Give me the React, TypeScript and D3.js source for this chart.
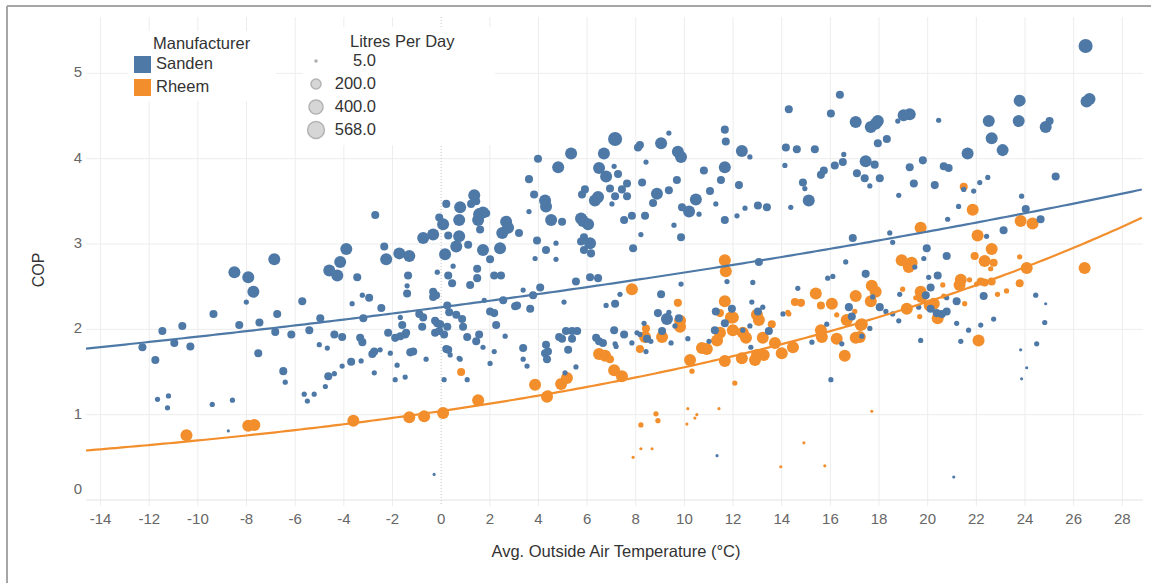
import { useEffect, useRef } from "react";
import * as d3 from "d3";

const W = 1151;
const H = 583;
const FONT = "'Liberation Sans', Arial, sans-serif";

const manufacturers = ["Sanden", "Rheem"];
const colors = ["#4e79a7", "#f28e2b"];
const xTicks = d3.range(-14, 29, 2);
const yTicks = [0, 1, 2, 3, 4, 5];
const sizeLegend = [5, 200, 400, 568];

// exponential trend: cop = a * exp(b * temp)
const trendSanden = [2.259, 0.01655];
const trendRheem = [1.042, 0.0401];

// [avg outside air temp, COP, litres per day]
const sanden: [number, number, number][] = [
  [-12.28, 1.79, 130], [-11.75, 1.64, 130], [-11.46, 1.98, 130], [-10.64, 2.04, 130], [-10.97, 1.84, 130],
  [-10.31, 1.8, 130], [-11.66, 1.18, 55], [-11.21, 1.22, 55], [-11.25, 1.08, 55], [-9.41, 1.12, 55],
  [-8.58, 1.17, 55], [-8.75, 0.81, 20], [-9.36, 2.18, 130], [-8.3, 2.05, 130], [-7.47, 2.08, 130],
  [-8.01, 2.32, 55], [-8.5, 2.67, 290], [-7.93, 2.61, 290], [-7.72, 2.44, 290], [-6.86, 2.82, 290],
  [-6.74, 2.18, 130], [-5.71, 2.33, 130], [-4.97, 2.13, 130], [-7.52, 1.72, 130], [-6.82, 1.97, 130],
  [-6.16, 1.94, 130], [-5.42, 1.99, 130], [-6.49, 1.51, 130], [-6.41, 1.38, 55], [-5.63, 1.24, 55],
  [-5.22, 1.24, 55], [-5.5, 1.16, 55], [-4.76, 1.33, 55], [-4.64, 1.45, 130], [-4.39, 1.48, 55],
  [-4.07, 1.57, 55], [-3.7, 1.62, 130], [-3.29, 1.63, 55], [-2.75, 1.49, 55], [-5.01, 1.82, 55],
  [-4.68, 1.78, 55], [-4.39, 1.94, 130], [-4.07, 1.91, 130], [-3.33, 1.9, 130], [-3.24, 1.85, 130],
  [-3.2, 2.13, 130], [-2.83, 1.71, 130], [-2.75, 1.74, 130], [-2.51, 1.76, 55], [-2.18, 1.96, 130],
  [-2.09, 1.72, 55], [-1.81, 1.58, 55], [-1.89, 1.41, 55], [-1.48, 1.44, 55], [-1.89, 1.9, 130],
  [-1.68, 1.92, 130], [-1.44, 1.96, 130], [-1.68, 2.14, 55], [-1.6, 2.05, 130], [-0.9, 2.18, 130],
  [-0.74, 2.14, 130], [-0.78, 2.03, 130], [-0.62, 1.65, 55], [-1.27, 1.73, 130], [-1.15, 1.74, 130],
  [-3.66, 2.3, 55], [-3.24, 2.4, 55], [-2.96, 2.37, 130], [-2.46, 2.25, 130], [-2.71, 3.34, 130],
  [-2.34, 2.97, 130], [-2.26, 2.82, 290], [-3.9, 2.94, 290], [-4.15, 2.79, 290], [-4.6, 2.69, 290],
  [-4.27, 2.63, 290], [-3.45, 2.61, 130], [-1.72, 2.89, 290], [-1.31, 2.86, 290], [-1.36, 2.63, 130],
  [-1.4, 2.51, 55], [-1.4, 2.42, 130], [-0.33, 2.44, 130], [-0.33, 2.38, 130], [-0.21, 2.4, 130],
  [-0.16, 2.67, 55], [-0.25, 2.1, 130], [-0.16, 2.07, 130], [-0.04, 2.06, 130], [-0.25, 1.96, 130],
  [-0.08, 1.98, 130], [0.12, 1.94, 130], [0.25, 2.03, 130], [0.25, 2.28, 130], [0.33, 2.2, 130],
  [0.21, 1.77, 130], [0.29, 1.76, 130], [0.37, 1.7, 55], [0.12, 1.41, 55], [0.74, 1.66, 55],
  [-0.29, 0.3, 20], [0.29, 2.63, 130], [0.45, 2.54, 130], [0.49, 2.74, 55], [0.16, 2.88, 290],
  [-0.74, 3.07, 290], [-0.33, 3.11, 290], [-0.08, 3.31, 130], [0.08, 3.23, 290], [0.21, 3.47, 130],
  [0.78, 3.43, 290], [0.74, 3.28, 290], [0.29, 3.1, 130], [0.74, 3.09, 290], [0.62, 2.97, 290],
  [1.36, 3.57, 290], [1.44, 3.5, 130], [1.23, 3.47, 130], [1.56, 3.35, 290], [1.72, 3.37, 290],
  [1.85, 3.36, 130], [1.52, 3.28, 290], [1.6, 3.17, 130], [1.11, 2.99, 130], [1.19, 2.52, 130],
  [1.48, 2.6, 130], [1.48, 2.71, 130], [1.72, 2.93, 290], [2.01, 2.82, 130], [2.18, 2.63, 130],
  [2.46, 2.63, 130], [2.67, 3.26, 290], [2.75, 3.19, 290], [2.51, 3.13, 290], [2.42, 2.95, 290],
  [3.2, 3.13, 130], [3.61, 3.76, 130], [3.98, 4.0, 130], [4.81, 3.9, 290], [5.34, 4.06, 290],
  [3.82, 3.58, 130], [4.27, 3.51, 290], [4.31, 3.44, 290], [3.61, 3.38, 55], [4.52, 3.28, 290],
  [4.97, 3.26, 130], [3.94, 3.04, 130], [4.31, 2.93, 130], [4.72, 3.01, 55], [3.86, 2.83, 55],
  [4.72, 2.82, 55], [4.07, 2.49, 130], [3.37, 2.46, 55], [3.74, 2.41, 55], [5.54, 2.56, 130],
  [6.12, 2.61, 130], [6.45, 2.6, 130], [5.05, 2.32, 55], [6.78, 2.28, 55], [7.15, 2.3, 130],
  [7.35, 2.41, 55], [5.79, 3.58, 130], [5.91, 3.64, 130], [6.45, 3.55, 290], [6.32, 3.51, 290],
  [7.02, 3.47, 55], [7.15, 3.56, 130], [6.94, 3.65, 130], [5.75, 3.3, 290], [5.83, 3.27, 290],
  [6.04, 3.23, 290], [5.75, 3.03, 130], [5.87, 3.08, 130], [5.87, 2.93, 130], [6.12, 3.01, 290],
  [6.16, 2.89, 130], [6.69, 4.06, 290], [7.15, 4.23, 400], [6.49, 3.89, 290], [6.78, 3.79, 290],
  [7.11, 3.91, 55], [7.27, 3.82, 130], [7.64, 3.71, 130], [7.43, 3.64, 130], [7.64, 3.56, 130],
  [7.52, 3.28, 130], [8.09, 4.13, 130], [8.17, 4.16, 130], [9.36, 4.3, 55], [9.04, 4.18, 290],
  [9.73, 4.08, 290], [9.86, 4.02, 290], [8.42, 3.96, 55], [11.66, 4.34, 130], [11.7, 4.2, 130],
  [12.36, 4.09, 290], [12.69, 4.02, 55], [11.66, 3.9, 290], [10.8, 3.86, 130], [11.5, 3.75, 130],
  [9.69, 3.75, 130], [8.26, 3.72, 130], [8.87, 3.59, 290], [9.36, 3.63, 130], [11.05, 3.62, 130],
  [12.24, 3.69, 130], [10.47, 3.52, 290], [8.71, 3.48, 130], [9.9, 3.43, 130], [10.19, 3.38, 290],
  [10.6, 3.35, 55], [11.29, 3.47, 55], [12.49, 3.42, 55], [13.02, 3.45, 130], [13.39, 3.43, 130],
  [11.66, 3.28, 130], [12.16, 3.33, 55], [8.38, 3.33, 130], [7.84, 3.33, 130], [9.57, 3.22, 55],
  [8.21, 3.11, 55], [9.86, 3.08, 130], [7.89, 2.95, 130], [13.06, 2.79, 130], [12.81, 2.55, 55],
  [11.75, 2.56, 55], [9.86, 2.53, 55], [9.04, 2.41, 130], [8.91, 2.19, 130], [9.36, 2.2, 55],
  [9.28, 2.12, 290], [9.77, 2.13, 130], [9.61, 2.04, 55], [8.34, 2.07, 55], [7.11, 1.99, 130],
  [7.52, 1.94, 130], [8.17, 1.94, 55], [7.84, 1.84, 55], [9.08, 1.98, 130], [9.45, 1.84, 55],
  [10.14, 1.89, 55], [11.29, 2.21, 130], [11.95, 2.24, 130], [12.77, 2.32, 55], [13.02, 2.21, 130],
  [13.22, 2.26, 55], [11.25, 1.99, 130], [11.66, 2.07, 130], [12.4, 1.99, 55], [12.69, 2.04, 55],
  [13.47, 1.98, 130], [11.01, 1.86, 55], [12.73, 1.79, 55], [8.42, 1.74, 55], [8.05, 1.96, 55],
  [8.46, 1.89, 130], [8.62, 1.86, 55], [7.15, 1.83, 55], [7.19, 1.8, 55], [6.37, 1.9, 130],
  [6.49, 1.86, 130], [6.65, 1.84, 130], [11.34, 0.52, 20], [1.07, 1.41, 55], [0.78, 1.65, 55],
  [2.01, 1.6, 55], [3.37, 1.65, 55], [3.53, 1.57, 55], [4.35, 1.65, 130], [4.27, 1.72, 130],
  [4.39, 1.74, 130], [4.31, 1.82, 130], [3.37, 1.78, 130], [5.09, 1.49, 55], [5.54, 1.56, 55],
  [1.72, 1.79, 55], [2.18, 1.74, 55], [5.22, 1.76, 130], [4.85, 1.91, 130], [4.97, 1.89, 130],
  [5.38, 1.89, 130], [5.13, 1.98, 130], [5.38, 1.98, 130], [5.59, 1.98, 130], [2.63, 1.92, 55],
  [1.44, 1.86, 130], [1.56, 1.94, 130], [1.07, 1.91, 130], [3.66, 2.24, 130], [3.78, 2.4, 130],
  [3.04, 2.27, 130], [3.12, 2.28, 130], [2.55, 2.34, 130], [2.01, 2.21, 130], [2.18, 2.19, 130],
  [2.26, 2.05, 130], [1.77, 2.34, 55], [0.86, 2.12, 130], [0.9, 2.03, 130], [0.62, 2.17, 130],
  [-1.48, 1.94, 130], [-1.64, 1.93, 55],
  [14.29, 4.58, 130], [16.02, 4.53, 130], [16.39, 4.75, 130], [17.04, 4.43, 290], [17.66, 4.37, 290],
  [17.95, 4.44, 290], [17.86, 4.41, 290], [18.32, 4.23, 130], [17.95, 4.18, 130], [14.17, 4.13, 130],
  [14.62, 4.11, 130], [15.36, 4.11, 130], [16.55, 4.05, 55], [16.51, 3.96, 130], [16.18, 3.92, 130],
  [14.13, 3.92, 55], [17.45, 3.97, 290], [17.82, 3.93, 130], [15.73, 3.86, 130], [15.61, 3.81, 130],
  [17.09, 3.83, 130], [17.41, 3.77, 130], [18.03, 3.77, 130], [17.62, 3.68, 55], [19.26, 4.52, 290],
  [19.01, 4.51, 290], [18.77, 4.44, 55], [20.45, 4.45, 55], [21.64, 4.06, 290], [22.51, 4.44, 290],
  [22.63, 4.24, 290], [23.08, 4.1, 290], [23.78, 4.68, 290], [23.74, 4.44, 290], [24.85, 4.37, 290],
  [25.01, 4.44, 130], [26.49, 5.32, 400], [26.53, 4.67, 290], [26.65, 4.7, 290], [25.26, 3.79, 130],
  [19.26, 3.9, 130], [19.8, 3.98, 130], [14.87, 3.72, 130], [14.95, 3.65, 55], [15.11, 3.51, 290],
  [19.43, 3.71, 130], [20.29, 3.69, 130], [18.81, 3.57, 55], [20.66, 3.91, 130], [20.86, 3.89, 130],
  [21.48, 3.64, 55], [21.89, 3.62, 55], [22.14, 3.72, 55], [22.47, 3.78, 55], [14.37, 3.43, 55],
  [23.86, 3.56, 55], [24.03, 3.41, 130], [21.27, 3.44, 55], [20.82, 3.29, 55], [24.64, 3.29, 130],
  [23.12, 3.16, 130], [18.44, 3.13, 55], [18.56, 3.02, 55], [16.92, 3.07, 130], [19.96, 2.95, 130],
  [19.84, 2.83, 55], [20.78, 2.86, 130], [22.42, 3.09, 55], [16.63, 2.79, 55], [19.47, 2.73, 55],
  [17.45, 2.65, 130], [20.04, 2.61, 55], [20.41, 2.63, 130], [20.12, 2.49, 130], [17.74, 2.38, 55],
  [18.85, 2.41, 55], [19.92, 2.4, 130], [20.78, 2.37, 55], [22.3, 2.39, 130], [18.03, 2.26, 130],
  [18.28, 2.21, 55], [18.56, 2.18, 55], [18.81, 2.1, 55], [19.63, 2.26, 55], [20.12, 2.24, 130],
  [20.37, 2.19, 130], [20.58, 2.18, 130], [20.78, 2.21, 130], [21.19, 2.33, 130], [21.19, 2.07, 55],
  [21.68, 1.99, 55], [22.18, 2.05, 55], [22.71, 2.12, 55], [17.29, 1.92, 55], [17.62, 2.01, 55],
  [19.71, 1.87, 55], [21.36, 1.86, 55], [24.44, 2.4, 55], [24.85, 2.3, 20], [24.81, 2.08, 55],
  [24.48, 1.83, 55], [23.82, 1.76, 20], [24.07, 1.55, 20], [23.86, 1.42, 20], [21.07, 0.27, 20],
  [16.02, 1.41, 55], [14.66, 2.48, 55], [15.89, 2.6, 55], [16.1, 2.62, 55], [16.88, 2.15, 130],
  [16.76, 2.26, 130], [16.47, 1.83, 55], [15.24, 1.85, 55], [15.85, 2.06, 55], [14.05, 2.18, 55],
];

const rheem: [number, number, number][] = [
  [-10.47, 0.76, 290], [-7.93, 0.87, 290], [-7.68, 0.88, 290], [-3.61, 0.93, 290], [-1.31, 0.97, 290],
  [-0.7, 0.98, 290], [0.08, 1.02, 290], [1.52, 1.17, 290], [0.82, 1.5, 130], [3.86, 1.35, 290],
  [4.35, 1.21, 290], [4.39, 1.24, 130], [4.93, 1.36, 290], [5.17, 1.43, 290], [6.49, 1.71, 290],
  [6.74, 1.69, 290], [6.94, 1.65, 130], [7.11, 1.52, 290], [7.43, 1.45, 290], [7.84, 2.47, 290],
  [8.17, 1.77, 130], [8.42, 2.01, 130], [8.38, 1.91, 290], [9.08, 1.91, 290], [9.73, 2.31, 130],
  [9.82, 2.03, 290], [9.82, 2.1, 290], [10.23, 1.64, 290], [10.31, 1.51, 55], [10.72, 1.78, 290],
  [10.92, 1.77, 290], [11.46, 2.19, 130], [11.66, 2.33, 290], [11.91, 2.14, 290], [11.99, 2.14, 290],
  [11.46, 1.96, 290], [11.34, 1.87, 290], [11.99, 1.99, 290], [11.66, 2.81, 290], [11.7, 2.68, 290],
  [11.66, 1.63, 290], [12.36, 1.66, 290], [12.4, 1.96, 290], [12.53, 1.9, 290], [12.07, 1.37, 55],
  [12.98, 2.17, 290], [13.06, 2.11, 290], [13.22, 1.9, 290], [12.98, 1.7, 290], [13.26, 1.7, 290],
  [12.9, 1.64, 290], [13.59, 2.06, 130], [13.72, 1.84, 290], [14.0, 1.72, 290], [14.46, 1.79, 290],
  [14.25, 2.2, 55], [14.29, 2.18, 55], [14.54, 2.32, 130], [14.79, 2.31, 130], [15.4, 2.42, 290],
  [15.61, 2.28, 130], [16.06, 2.3, 290], [16.26, 2.17, 55], [16.67, 2.11, 290], [17.0, 2.21, 55],
  [17.04, 2.39, 290], [15.61, 1.99, 290], [15.65, 1.91, 290], [16.26, 1.89, 290], [17.25, 2.05, 290],
  [17.04, 1.9, 290], [16.59, 1.69, 290], [17.7, 2.51, 290], [17.86, 2.44, 290], [17.66, 2.33, 290],
  [18.97, 2.47, 55], [18.93, 2.81, 290], [19.34, 2.78, 290], [19.22, 2.73, 290], [19.71, 3.19, 290],
  [19.71, 2.44, 290], [19.75, 2.38, 290], [19.51, 2.37, 55], [20.25, 2.3, 290], [20.08, 2.28, 290],
  [19.14, 2.24, 290], [19.67, 2.15, 55], [20.41, 2.13, 290], [20.62, 2.52, 55], [20.66, 2.39, 55],
  [21.36, 2.58, 290], [21.31, 2.52, 290], [21.72, 2.58, 55], [22.18, 2.56, 130], [22.34, 2.55, 130],
  [22.63, 2.56, 130], [22.01, 2.53, 55], [22.87, 2.41, 55], [23.24, 2.45, 55], [23.78, 2.54, 130],
  [21.52, 2.3, 55], [22.09, 1.87, 290], [21.48, 3.67, 130], [21.85, 3.4, 290], [22.05, 3.1, 290],
  [22.63, 2.94, 290], [23.82, 3.27, 290], [24.31, 3.24, 290], [21.93, 2.86, 130], [22.34, 2.8, 290],
  [22.71, 2.78, 130], [22.59, 2.71, 55], [23.78, 2.85, 55], [24.07, 2.72, 290], [26.45, 2.72, 290],
  [17.29, 2.06, 290], [17.21, 1.91, 290], [8.83, 1.01, 55], [8.91, 0.93, 55], [8.21, 0.88, 55],
  [8.21, 0.6, 20], [8.67, 0.6, 20], [7.89, 0.5, 20], [10.14, 1.07, 20], [10.43, 0.96, 20],
  [10.51, 1.0, 20], [10.1, 0.89, 20], [11.42, 1.07, 20], [17.7, 1.04, 20], [14.91, 0.67, 20],
  [13.96, 0.39, 20], [15.77, 0.4, 20],
];

export default function App() {
  const svgRef = useRef<SVGSVGElement>(null);

  useEffect(() => {
    const svg = d3.select(svgRef.current);
    svg.selectAll("*").remove();

    const x = d3.scaleLinear().domain([-14.6, 28.85]).range([86, 1143]);
    const y = d3.scaleLinear().domain([0, 5.66]).range([500, 17]);
    const r = d3.scaleSqrt().domain([0, 568]).range([0, 8.4]);
    const radius = (v: number) => Math.max(1.2, r(v));

    svg.append("rect").attr("width", W).attr("height", H).attr("fill", "#fff");

    // outer frame
    svg.append("line").attr("x1", 7).attr("x2", W).attr("y1", 6).attr("y2", 6)
      .attr("stroke", "#a6a6a6").attr("stroke-width", 2);
    svg.append("line").attr("x1", 7).attr("x2", 7).attr("y1", 6).attr("y2", H)
      .attr("stroke", "#a6a6a6").attr("stroke-width", 2);

    const grid = svg.append("g");
    grid.selectAll(".vg").data(xTicks.filter(d => d !== 0)).enter().append("line")
      .attr("x1", d => x(d)).attr("x2", d => x(d))
      .attr("y1", 17).attr("y2", 506)
      .attr("stroke", "#ededed").attr("stroke-width", 1);
    grid.selectAll(".hg").data(yTicks.filter(d => d > 0)).enter().append("line")
      .attr("x1", 86).attr("x2", 1143)
      .attr("y1", d => y(d)).attr("y2", d => y(d))
      .attr("stroke", "#ededed").attr("stroke-width", 1);
    // x axis base line
    grid.append("line").attr("x1", 86).attr("x2", 1143).attr("y1", 500).attr("y2", 500)
      .attr("stroke", "#e3e3e3").attr("stroke-width", 1);
    // zero line
    grid.append("line").attr("x1", x(0)).attr("x2", x(0)).attr("y1", 17).attr("y2", 506)
      .attr("stroke", "#c4c4c4").attr("stroke-width", 1).attr("stroke-dasharray", "1,2");

    // axis labels
    svg.append("g").selectAll("text").data(xTicks).enter().append("text")
      .attr("x", d => x(d)).attr("y", 520)
      .attr("text-anchor", "middle").attr("dominant-baseline", "middle")
      .attr("font-family", FONT).attr("font-size", 15).attr("fill", "#666")
      .text(d => d);
    svg.append("g").selectAll("text").data(yTicks).enter().append("text")
      .attr("x", 82).attr("y", d => d === 0 ? 490 : y(d))
      .attr("text-anchor", "end").attr("dominant-baseline", "middle")
      .attr("font-family", FONT).attr("font-size", 15).attr("fill", "#666")
      .text(d => d);

    svg.append("text")
      .attr("x", 616).attr("y", 553)
      .attr("text-anchor", "middle").attr("dominant-baseline", "middle")
      .attr("font-family", FONT).attr("font-size", 16.5).attr("fill", "#333")
      .text("Avg. Outside Air Temperature (°C)");
    svg.append("text")
      .attr("transform", "translate(40,270) rotate(-90)")
      .attr("text-anchor", "middle").attr("dominant-baseline", "middle")
      .attr("font-family", FONT).attr("font-size", 16).attr("fill", "#333")
      .text("COP");

    // points
    const clip = svg.append("clipPath").attr("id", "plot-clip");
    clip.append("rect").attr("x", 86).attr("y", 17).attr("width", 1057).attr("height", 483);
    const plot = svg.append("g").attr("clip-path", "url(#plot-clip)");

    plot.append("g").selectAll("circle").data(rheem).enter().append("circle")
      .attr("cx", d => x(d[0])).attr("cy", d => y(d[1])).attr("r", d => radius(d[2]))
      .attr("fill", colors[1]);
    plot.append("g").selectAll("circle").data(sanden).enter().append("circle")
      .attr("cx", d => x(d[0])).attr("cy", d => y(d[1])).attr("r", d => radius(d[2]))
      .attr("fill", colors[0]);

    // trend lines
    const temps = d3.range(-14.6, 28.9, 0.2);
    const line = d3.line<number>().x(t => x(t));
    [trendSanden, trendRheem].forEach((tr, i) => {
      plot.append("path")
        .datum(temps)
        .attr("d", line.y(t => y(tr[0] * Math.exp(tr[1] * t))))
        .attr("fill", "none")
        .attr("stroke", colors[i])
        .attr("stroke-width", 2.2);
    });

    // legends
    svg.append("rect").attr("x", 128).attr("y", 31).attr("width", 148).attr("height", 70).attr("fill", "#fff");
    svg.append("rect").attr("x", 303).attr("y", 27).attr("width", 192).attr("height", 118).attr("fill", "#fff");

    svg.append("text").attr("x", 153).attr("y", 45)
      .attr("dominant-baseline", "middle")
      .attr("font-family", FONT).attr("font-size", 16.5).attr("fill", "#333")
      .text("Manufacturer");
    manufacturers.forEach((m, i) => {
      svg.append("rect").attr("x", 134).attr("y", 56 + i * 23).attr("width", 17).attr("height", 17)
        .attr("fill", colors[i]);
      svg.append("text").attr("x", 156).attr("y", 65 + i * 23)
        .attr("dominant-baseline", "middle")
        .attr("font-family", FONT).attr("font-size", 16.5).attr("fill", "#333")
        .text(m);
    });

    svg.append("text").attr("x", 350).attr("y", 43)
      .attr("dominant-baseline", "middle")
      .attr("font-family", FONT).attr("font-size", 16.5).attr("fill", "#333")
      .text("Litres Per Day");
    sizeLegend.forEach((v, i) => {
      svg.append("circle").attr("cx", 316).attr("cy", 61 + i * 23)
        .attr("r", Math.max(1.8, r(v)))
        .attr("fill", i === 0 ? "#b0b0b0" : "#d6d6d6")
        .attr("stroke", "#b3b3b3").attr("stroke-width", i === 0 ? 0 : 1.5);
      svg.append("text").attr("x", 376).attr("y", 62 + i * 23)
        .attr("text-anchor", "end").attr("dominant-baseline", "middle")
        .attr("font-family", FONT).attr("font-size", 16.5).attr("fill", "#333")
        .text(v.toFixed(1));
    });
  }, []);

  return (
    <svg
      ref={svgRef}
      width={W}
      height={H}
      style={{ position: "absolute", left: 0, top: 0, display: "block" }}
    />
  );
}
